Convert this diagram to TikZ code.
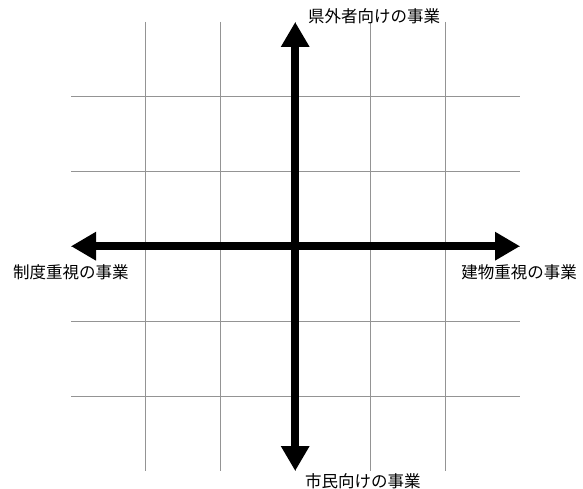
\documentclass[tikz,border=0pt]{standalone}
\usepackage{fontspec}
\newfontfamily\cjk{Noto Sans CJK JP}
\usetikzlibrary{arrows.meta}
\begin{document}
\begin{tikzpicture}[x=1pt,y=-1pt,
  gridline/.style={draw=black!42,line width=1pt},
  axis/.style={line width=8pt,{Triangle[length=25pt,width=27pt]}-{Triangle[length=25pt,width=27pt]}},
  lbl/.style={inner sep=0pt,font=\cjk\fontsize{16.5pt}{18pt}\selectfont}]
\useasboundingbox (0,0) rectangle (583,489);
\foreach \i in {1,...,5}{
  \draw[gridline] ({71+\i*74.83},22) -- ({71+\i*74.83},471);
  \draw[gridline] (71,{22+\i*74.83}) -- (520,{22+\i*74.83});
}
\coordinate (T) at (295.2,22);
\coordinate (B) at (295.2,471);
\coordinate (L) at (71,246.2);
\coordinate (R) at (520,246.2);
\draw[axis] (B) -- (T);
\draw[axis] (L) -- (R);
\node[lbl,anchor=west] (top) at (308,16) {県外者向けの事業};
\node[lbl,anchor=west] (left) at (13,272) {制度重視の事業};
\node[lbl,anchor=east] (right) at (577,272) {建物重視の事業};
\node[lbl,anchor=west] (bottom) at (305,481) {市民向けの事業};
\end{tikzpicture}
\end{document}
